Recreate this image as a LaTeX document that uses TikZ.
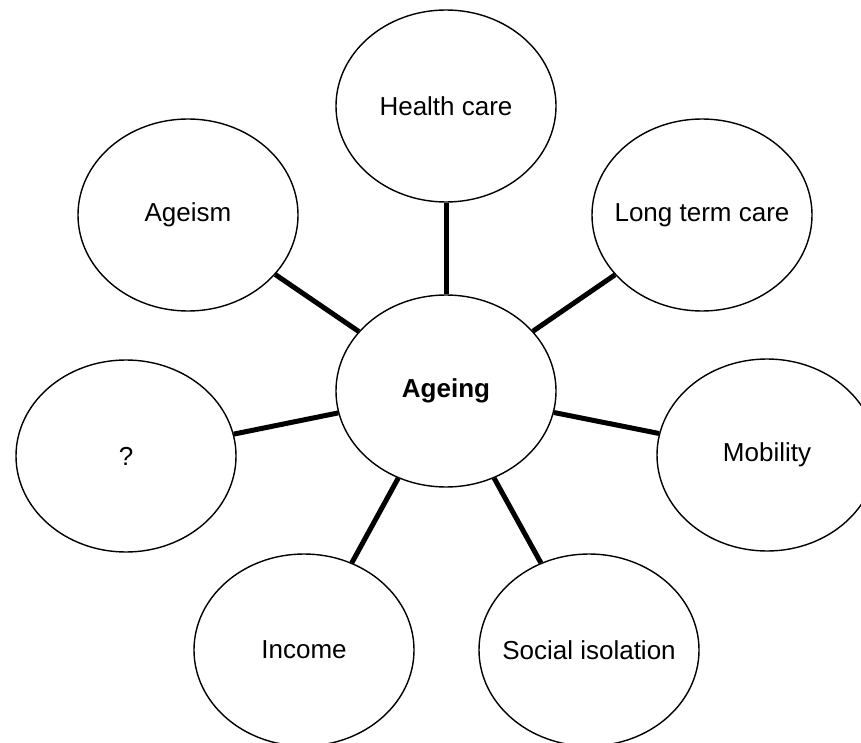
\documentclass[tikz,border=0pt]{standalone}
\usepackage{fontspec}
\setmainfont{Liberation Sans}
\usetikzlibrary{shapes}
\tikzset{
    bubble/.style = {ellipse, draw=black, line width=1.4pt, fill=white, inner sep=0pt, minimum width=220pt, minimum height=192pt},
    hubnode/.style = {bubble, label={center:\bfseries #1}},
    topic/.style = {bubble, label={center:#1}},
    spoke/.style = {line width=5pt, black},
}
\begin{document}
\begin{tikzpicture}[
    x=1pt, y=-1pt,
    font=\fontsize{26}{31}\selectfont]

  \useasboundingbox (0,0) rectangle (861,743);

  \node[hubnode=Ageing] (ageing) at (446,391) {};

  \node[topic=Health care]      (health)   at (446,106) {};
  \node[topic=Ageism]           (ageism)   at (188,215) {};
  \node[topic=Long term care]   (ltc)      at (702,215) {};
  \node[topic=?]                (unknown)  at (126,456) {};
  \node[topic=Mobility]         (mobility) at (767,455) {};
  \node[topic=Income]           (income)   at (304,650) {};
  \node[topic=Social isolation] (social)   at (589,650) {};

  % spokes
  \foreach \n in {health,ageism,ltc,unknown,mobility,income,social}
    \draw[spoke] (ageing) -- (\n);

\end{tikzpicture}
\end{document}
